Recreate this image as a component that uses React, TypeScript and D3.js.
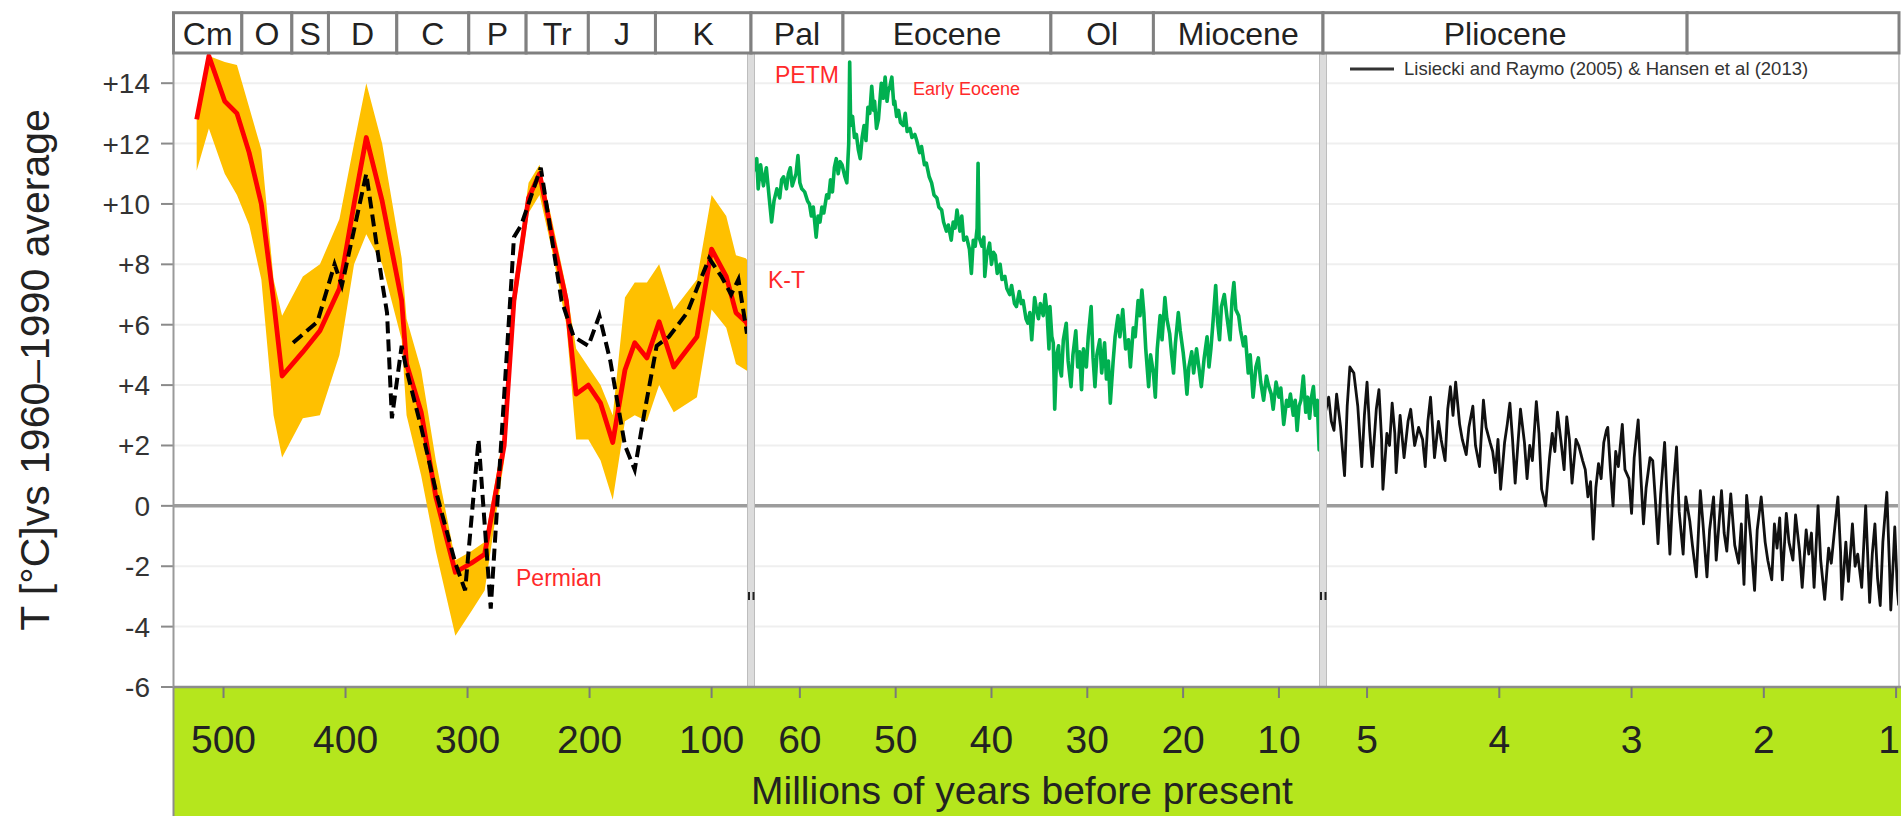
import React from 'react';
import * as d3 from 'd3';

// header cells (names + boundary ages in Ma)
const periodNames = ['Cm', 'O', 'S', 'D', 'C', 'P', 'Tr', 'J', 'K'];
const periodEdges = [541, 485, 444, 414, 358, 299, 252, 201, 146, 67.7];
const epochNames = ['Pal', 'Eocene', 'Ol', 'Miocene'];
const epochEdges = [65.1, 55.5, 33.8, 23.1, 5.4];
const lateNames = ['Pliocene', ''];
const lateEdges = [5.333, 2.58, 0.978];

const yTicks = [-6, -4, -2, 0, 2, 4, 6, 8, 10, 12, 14];
const ticksOld = [500, 400, 300, 200, 100];
const ticksMid = [60, 50, 40, 30, 20, 10];
const ticksNew = [5, 4, 3, 2, 1];

// Phanerozoic: red mean curve and orange uncertainty band share ages
const oldAges = [522, 512, 499, 489, 479, 469, 459, 452, 435, 421, 405, 393, 383, 370, 354, 350, 338, 326, 310, 297, 286, 270, 262, 250, 241, 231, 219, 211, 201, 191, 181, 171, 163, 153, 143, 131, 112, 100, 88, 80, 72, 68];
const redTemps = [12.8, 14.9, 13.4, 13.0, 11.7, 10.0, 6.8, 4.3, 5.1, 5.8, 7.2, 10.0, 12.2, 10.1, 6.8, 4.7, 3.1, 0.3, -2.2, -1.9, -1.6, 2.0, 6.8, 10.2, 11.0, 9.0, 6.8, 3.7, 4.0, 3.4, 2.1, 4.5, 5.4, 4.9, 6.1, 4.6, 5.6, 8.5, 7.6, 6.4, 6.1, 5.8];
const bandLow = [11.1, 12.5, 11.0, 10.3, 9.3, 7.5, 3.0, 1.6, 2.9, 3.0, 5.0, 8.0, 9.0, 8.0, 5.5, 3.0, 1.0, -1.5, -4.3, -3.5, -2.8, 1.5, 6.3, 9.7, 10.3, 8.5, 6.0, 2.2, 2.2, 1.5, 0.2, 2.8, 3.0, 2.8, 4.0, 3.1, 3.6, 6.5, 5.9, 4.7, 4.5, 4.4];
const bandHigh = [12.9, 14.9, 14.7, 14.6, 13.2, 11.8, 7.5, 6.3, 7.6, 8.0, 9.5, 12.0, 14.0, 12.0, 8.2, 6.2, 4.5, 1.5, -1.8, -1.5, -1.2, 2.5, 7.3, 10.7, 11.3, 9.5, 7.2, 5.2, 4.6, 4.0, 3.0, 6.9, 7.4, 7.4, 8.0, 6.5, 7.5, 10.3, 9.6, 8.3, 8.2, 8.0];

// black dashed Phanerozoic reconstruction
const dashAges = [443, 423, 409, 403, 383, 370, 366, 362, 354, 350, 338, 326, 310, 302, 291, 281, 264, 262, 256, 240, 223, 213, 201, 192, 183, 171, 163, 155, 145, 135, 120, 102, 92, 84, 78, 71];
const dashTemps = [5.4, 6.1, 8.0, 7.3, 11.0, 7.4, 6.4, 2.9, 5.3, 4.5, 2.6, 0.5, -1.9, -2.8, 2.2, -3.4, 7.5, 8.9, 9.3, 11.2, 6.8, 5.6, 5.3, 6.3, 4.8, 2.0, 1.2, 3.1, 5.3, 5.6, 6.4, 8.2, 7.6, 7.0, 7.5, 5.7];

// Cenozoic green curve [age Ma, T]
const greenData: [number, number][] = [
  [64.9, 11.0], [64.5, 11.5], [64.35, 10.5], [64.1, 11.3], [63.8, 10.6], [63.5, 11.2], [63.2, 10.2], [62.95, 9.4],
  [62.7, 10.1], [62.4, 10.5], [62.1, 10.2], [61.9, 10.8], [61.7, 10.9], [61.4, 10.5], [61.2, 11.0], [61.0, 11.2],
  [60.8, 10.6], [60.7, 10.7], [60.4, 11.0], [60.2, 11.6], [60.0, 10.7], [59.8, 10.5], [59.5, 10.4], [59.2, 10.1],
  [59.0, 10.0], [58.8, 9.6], [58.6, 9.9], [58.3, 8.9], [58.1, 9.6], [57.9, 9.4], [57.7, 9.9], [57.5, 9.7],
  [57.2, 10.3], [57.0, 10.2], [56.8, 10.8], [56.6, 10.4], [56.4, 11.2], [56.2, 11.5], [56.0, 11.0], [55.8, 11.4],
  [55.6, 11.3], [55.3, 10.9], [55.1, 10.7], [54.9, 12.0], [54.8, 14.7], [54.7, 12.6], [54.5, 12.9], [54.3, 12.2],
  [54.1, 12.3], [53.9, 11.8], [53.7, 11.5], [53.5, 12.2], [53.3, 12.6], [53.1, 12.1], [52.9, 13.2], [52.7, 13.0],
  [52.5, 13.9], [52.3, 13.1], [52.2, 13.4], [52.0, 12.5], [51.8, 12.8], [51.6, 13.6], [51.5, 14.0], [51.3, 13.5],
  [51.1, 14.2], [50.9, 13.4], [50.8, 13.7], [50.6, 13.9], [50.4, 14.2], [50.2, 13.3], [50.1, 13.4], [49.9, 12.9],
  [49.7, 13.1], [49.5, 12.7], [49.2, 12.6], [49.0, 13.0], [48.8, 12.4], [48.5, 12.5], [48.3, 12.2], [48.0, 12.3],
  [47.8, 12.1], [47.5, 11.7], [47.3, 11.9], [47.0, 11.3], [46.8, 11.35], [46.5, 10.9], [46.25, 10.7], [46.0, 10.3],
  [45.7, 10.2], [45.5, 9.9], [45.2, 9.8], [45.0, 9.4], [44.7, 9.1], [44.5, 9.3], [44.2, 8.8], [44.0, 9.4],
  [43.8, 9.2], [43.6, 9.8], [43.3, 9.1], [43.1, 9.6], [42.9, 8.8], [42.6, 8.9], [42.3, 8.5], [42.1, 7.7],
  [41.9, 8.8], [41.7, 8.6], [41.5, 9.2], [41.4, 11.35], [41.3, 8.9], [41.0, 8.6], [40.8, 8.9], [40.7, 7.6],
  [40.5, 8.3], [40.2, 8.7], [40.0, 8.0], [39.8, 8.4], [39.6, 8.3], [39.4, 7.7], [39.1, 8.0], [38.9, 7.5],
  [38.6, 7.6], [38.4, 7.2], [38.1, 7.0], [37.9, 7.3], [37.6, 6.7], [37.4, 6.6], [37.1, 7.1], [36.9, 6.7],
  [36.7, 6.8], [36.4, 6.2], [36.2, 6.05], [36.0, 6.4], [35.8, 5.5], [35.5, 6.9], [35.3, 6.5], [35.1, 6.2],
  [34.9, 6.7], [34.6, 6.3], [34.4, 7.0], [34.2, 6.4], [34.0, 5.2], [33.9, 6.6], [33.7, 5.6], [33.55, 5.4],
  [33.4, 3.2], [33.2, 5.0], [33.0, 5.3], [32.9, 4.6], [32.7, 4.3], [32.5, 5.5], [32.2, 6.05], [32.0, 4.8],
  [31.7, 3.95], [31.5, 5.0], [31.2, 5.8], [31.0, 4.6], [30.8, 5.1], [30.6, 3.85], [30.4, 5.2], [30.1, 4.6],
  [29.9, 5.6], [29.6, 6.6], [29.4, 4.9], [29.2, 3.95], [29.0, 5.0], [28.7, 5.5], [28.5, 4.4], [28.2, 5.4],
  [28.0, 4.2], [27.8, 4.8], [27.6, 3.4], [27.3, 4.8], [27.1, 5.6], [26.8, 6.3], [26.6, 5.6], [26.3, 6.5],
  [26.0, 5.2], [25.7, 5.5], [25.5, 4.6], [25.2, 5.9], [25.0, 5.6], [24.7, 6.8], [24.5, 6.3], [24.3, 7.15],
  [24.1, 6.4], [23.9, 5.2], [23.6, 3.95], [23.4, 5.0], [23.1, 4.4], [22.9, 3.6], [22.7, 5.2], [22.4, 6.3],
  [22.2, 5.5], [21.9, 6.9], [21.7, 6.2], [21.4, 5.7], [21.2, 5.0], [21.0, 4.4], [20.8, 5.4], [20.5, 6.4],
  [20.3, 5.8], [20.0, 5.1], [19.8, 4.5], [19.6, 3.7], [19.4, 4.6], [19.1, 5.1], [18.9, 4.4], [18.6, 5.2],
  [18.4, 4.7], [18.1, 3.95], [17.8, 4.9], [17.5, 5.6], [17.3, 4.6], [17.1, 5.2], [16.9, 6.0], [16.6, 7.3],
  [16.4, 6.1], [16.2, 5.5], [16.0, 6.6], [15.7, 7.0], [15.4, 6.2], [15.1, 5.5], [14.9, 6.8], [14.7, 7.4],
  [14.5, 6.5], [14.2, 6.3], [14.0, 5.8], [13.7, 5.3], [13.5, 5.6], [13.2, 4.4], [13.0, 5.0], [12.7, 3.6],
  [12.4, 4.6], [12.15, 4.9], [11.9, 4.1], [11.6, 3.5], [11.3, 4.3], [11.1, 4.0], [10.8, 3.7], [10.6, 3.2],
  [10.3, 4.1], [10.0, 3.6], [9.8, 3.9], [9.5, 2.7], [9.2, 3.5], [9.0, 3.3], [8.8, 3.7], [8.5, 3.0],
  [8.3, 3.5], [8.1, 2.5], [7.9, 3.3], [7.7, 3.5], [7.45, 4.3], [7.2, 3.1], [7.0, 3.6], [6.8, 2.9],
  [6.6, 3.6], [6.4, 3.95], [6.2, 3.0], [6.0, 3.5], [5.8, 1.85], [5.6, 3.2], [5.5, 4.9], [5.45, 3.5],
];

// Pliocene-Pleistocene black curve [age Ma, T]
const blackData: [number, number][] = [
  [5.32, 3.0], [5.29, 3.6], [5.27, 2.8], [5.25, 2.5], [5.23, 3.7], [5.2, 2.6], [5.17, 1.0], [5.15, 3.3],
  [5.13, 4.6], [5.1, 4.4], [5.07, 3.3], [5.04, 1.3], [5.02, 3.0], [5.0, 4.1], [4.98, 2.5], [4.96, 1.3],
  [4.93, 3.2], [4.91, 3.85], [4.89, 2.2], [4.88, 0.55], [4.85, 2.4], [4.83, 2.0], [4.81, 3.4], [4.79, 2.4],
  [4.78, 1.1], [4.75, 3.0], [4.72, 1.6], [4.69, 2.8], [4.67, 3.2], [4.64, 2.0], [4.61, 2.6], [4.58, 2.2],
  [4.56, 1.3], [4.54, 2.8], [4.52, 3.6], [4.5, 2.3], [4.49, 1.6], [4.46, 2.8], [4.44, 2.2], [4.41, 1.5],
  [4.39, 3.2], [4.37, 3.95], [4.35, 3.0], [4.33, 4.1], [4.3, 2.7], [4.28, 2.2], [4.25, 1.7], [4.23, 2.6],
  [4.2, 3.3], [4.18, 2.0], [4.15, 1.3], [4.12, 3.5], [4.1, 2.6], [4.07, 2.1], [4.05, 1.8], [4.03, 1.1],
  [4.01, 2.2], [3.99, 0.55], [3.96, 2.1], [3.94, 2.7], [3.92, 3.4], [3.9, 2.2], [3.88, 0.75], [3.86, 2.0],
  [3.84, 3.2], [3.81, 2.1], [3.79, 0.9], [3.77, 2.0], [3.75, 1.5], [3.72, 3.45], [3.7, 2.4], [3.68, 0.55],
  [3.65, 0.0], [3.62, 1.6], [3.6, 2.4], [3.58, 1.8], [3.56, 3.1], [3.53, 2.0], [3.51, 1.2], [3.49, 2.95],
  [3.47, 2.2], [3.45, 0.75], [3.42, 2.2], [3.4, 2.0], [3.37, 1.5], [3.35, 1.2], [3.33, 0.3], [3.31, 0.8],
  [3.29, -1.1], [3.27, 0.6], [3.25, 1.4], [3.23, 0.9], [3.21, 2.1], [3.19, 2.5], [3.18, 2.6], [3.16, 1.2],
  [3.14, 0.0], [3.12, 1.8], [3.1, 1.3], [3.07, 2.7], [3.05, 1.2], [3.02, 0.9], [3.0, -0.25], [2.98, 1.6],
  [2.95, 2.85], [2.93, 1.0], [2.91, -0.6], [2.89, 0.6], [2.86, 1.6], [2.84, 1.5], [2.82, 0.2], [2.8, -1.25],
  [2.78, 0.4], [2.75, 2.1], [2.73, 0.1], [2.71, -1.6], [2.69, 0.3], [2.66, 1.95], [2.64, -0.2], [2.61, -1.6],
  [2.59, 0.3], [2.56, -0.5], [2.54, -1.3], [2.51, -2.35], [2.48, 0.5], [2.46, -0.6], [2.43, -2.35], [2.41, -0.8],
  [2.38, 0.3], [2.36, -1.8], [2.32, 0.5], [2.3, -0.9], [2.28, -1.5], [2.25, 0.4], [2.22, -1.3], [2.19, -1.9],
  [2.17, -0.6], [2.15, -2.6], [2.13, 0.35], [2.1, -1.0], [2.07, -2.8], [2.05, -0.8], [2.02, 0.3], [1.99, -1.2],
  [1.97, -1.8], [1.94, -2.45], [1.92, -0.6], [1.9, -1.4], [1.88, -0.4], [1.86, -2.45], [1.83, -0.25], [1.81, -1.2],
  [1.78, -1.8], [1.76, -0.3], [1.73, -1.5], [1.71, -2.7], [1.68, -0.8], [1.66, -1.6], [1.64, -0.9], [1.62, -2.7],
  [1.59, 0.0], [1.57, -1.8], [1.54, -3.1], [1.51, -1.4], [1.49, -1.9], [1.47, -1.0], [1.44, 0.3], [1.42, -1.5],
  [1.41, -3.1], [1.38, -1.2], [1.36, -2.5], [1.33, -0.6], [1.31, -2.0], [1.29, -1.6], [1.26, -2.7], [1.23, 0.0],
  [1.2, -3.2], [1.18, -1.6], [1.16, -0.6], [1.14, -2.4], [1.12, -3.3], [1.1, -1.2], [1.07, 0.45], [1.05, -2.0],
  [1.04, -3.45], [1.02, -1.7], [1.01, -0.7], [0.99, -2.8], [0.98, -3.3],
];

const FONT = "'Liberation Sans', Arial, Helvetica, sans-serif";
const W = 1901;
const H = 816;
const top = 53;
const bottom = 687;
const left = 173.5;
const right = 1899;

export default function App() {
  React.useEffect(() => {
    document.body.style.margin = '0';
    document.body.style.overflow = 'hidden';
  }, []);

  const y = d3.scaleLinear().domain([-6, 15]).range([bottom, top]);
  const xOld = d3.scaleLinear().domain([541, 67.7]).range([left, 751]);
  const xMid = d3.scaleLinear().domain([65.1, 5.4]).range([751, 1323]);
  const xNew = d3.scaleLinear().domain([5.333, 0.978]).range([1323, right]);

  const band = d3.area<number>()
    .x(d => xOld(d))
    .y0((d, i) => y(bandLow[i]))
    .y1((d, i) => y(bandHigh[i]));
  const redLine = d3.line<number>().x(d => xOld(d)).y((d, i) => y(redTemps[i]));
  const dashLine = d3.line<number>().x(d => xOld(d)).y((d, i) => y(dashTemps[i]));
  const greenLine = d3.line<[number, number]>().x(d => xMid(d[0])).y(d => y(d[1]));
  const blackLine = d3.line<[number, number]>().x(d => xNew(d[0])).y(d => y(d[1]));

  const headerTop = 12.7;
  const headerCells = [
    ...periodNames.map((n, i) => ({ n, x0: xOld(periodEdges[i]), x1: xOld(periodEdges[i + 1]) })),
    ...epochNames.map((n, i) => ({ n, x0: xMid(epochEdges[i]), x1: xMid(epochEdges[i + 1]) })),
    ...lateNames.map((n, i) => ({ n, x0: xNew(lateEdges[i]), x1: xNew(lateEdges[i + 1]) })),
  ];

  const xTicks = [
    ...ticksOld.map(t => ({ t, x: xOld(t) })),
    ...ticksMid.map(t => ({ t, x: xMid(t) })),
    ...ticksNew.map(t => ({ t, x: xNew(t) })),
  ];

  const dividers = [751, 1323];

  return (
    <svg width={W} height={H} style={{ position: 'absolute', left: 0, top: 0 }} fontFamily={FONT}>
      <defs>
        <clipPath id="p1"><rect x={left} y={top} width={751 - left} height={bottom - top} /></clipPath>
        <clipPath id="p2"><rect x={751} y={top} width={1323 - 751} height={bottom - top} /></clipPath>
        <clipPath id="p3"><rect x={1323} y={top} width={right - 1323} height={bottom - top} /></clipPath>
      </defs>
      <rect width={W} height={H} fill="#fff" />

      {/* grid */}
      {yTicks.map(t => (
        <line key={'g' + t} x1={left} x2={right} y1={y(t)} y2={y(t)}
          stroke={t === 0 ? '#9c9c9c' : '#efefef'} strokeWidth={t === 0 ? 3.5 : 2} />
      ))}

      {/* y ticks */}
      {yTicks.map(t => (
        <g key={'yt' + t}>
          <line x1={161} x2={left} y1={y(t)} y2={y(t)} stroke="#8a8a8a" strokeWidth={2} />
          <text x={150} y={y(t) + 10} textAnchor="end" fontSize={28} fill="#333">
            {t > 0 ? `+${t}` : `${t}`}
          </text>
        </g>
      ))}

      {/* Phanerozoic panel */}
      <g clipPath="url(#p1)">
        <path d={band(oldAges) || ''} fill="#ffc000" />
        <path d={redLine(oldAges) || ''} fill="none" stroke="#ff0000" strokeWidth={4.8} strokeLinejoin="round" />
        <path d={dashLine(dashAges) || ''} fill="none" stroke="#000" strokeWidth={4} strokeDasharray="12,6" />
      </g>

      {/* Cenozoic panel */}
      <g clipPath="url(#p2)">
        <path d={greenLine(greenData) || ''} fill="none" stroke="#00b050" strokeWidth={3.6} strokeLinejoin="round" />
      </g>

      {/* Pliocene-Pleistocene panel */}
      <g clipPath="url(#p3)">
        <path d={blackLine(blackData) || ''} fill="none" stroke="#111" strokeWidth={2.8} strokeLinejoin="round" />
      </g>

      {/* panel dividers */}
      {dividers.map(dx => (
        <g key={'d' + dx}>
          <rect x={dx - 3.5} y={top} width={7} height={bottom - top} fill="#dcdcdc" />
          <line x1={dx - 3.5} x2={dx - 3.5} y1={top} y2={bottom} stroke="#bdbdbd" strokeWidth={1} />
          <line x1={dx + 3.5} x2={dx + 3.5} y1={top} y2={bottom} stroke="#bdbdbd" strokeWidth={1} />
          <line x1={dx - 2} x2={dx - 2} y1={592} y2={600} stroke="#222" strokeWidth={2} />
          <line x1={dx + 2.5} x2={dx + 2.5} y1={592} y2={600} stroke="#222" strokeWidth={2} />
        </g>
      ))}

      <line x1={left} x2={left} y1={top} y2={bottom} stroke="#9a9a9a" strokeWidth={2} />
      <line x1={right} x2={right} y1={top} y2={bottom} stroke="#cfcfcf" strokeWidth={2} />

      {/* annotations */}
      <text x={775} y={83} fontSize={23} fill="#ff2a2a">PETM</text>
      <text x={913} y={95} fontSize={18} fill="#ff2a2a">Early Eocene</text>
      <text x={768} y={288} fontSize={23} fill="#ff2a2a">K-T</text>
      <text x={516} y={586} fontSize={23} fill="#ff2a2a">Permian</text>

      {/* legend */}
      <line x1={1350} x2={1394} y1={69} y2={69} stroke="#333" strokeWidth={3} />
      <text x={1404} y={75} fontSize={18.5} fill="#333">Lisiecki and Raymo (2005) &amp; Hansen et al (2013)</text>

      {/* header */}
      {headerCells.map((c, i) => (
        <g key={'h' + i}>
          <rect x={c.x0} y={headerTop} width={c.x1 - c.x0} height={top - headerTop} fill="#fff" stroke="#808080" strokeWidth={3} />
          <text x={(c.x0 + c.x1) / 2} y={44.5} textAnchor="middle" fontSize={32} fill="#222">{c.n}</text>
        </g>
      ))}

      {/* x axis band */}
      <rect x={left} y={bottom} width={W - left} height={H - bottom} fill="#b5e61d" />
      <line x1={left} x2={W} y1={bottom} y2={bottom} stroke="#8c8c8c" strokeWidth={2.5} />
      <line x1={left} x2={left} y1={bottom} y2={H} stroke="#8c8c8c" strokeWidth={2} />
      {xTicks.map(({ t, x }) => (
        <g key={'xt' + t}>
          <line x1={x} x2={x} y1={bottom} y2={bottom + 11} stroke="#7a7a7a" strokeWidth={2} />
          <text x={Math.min(x, W - 12)} y={753} textAnchor="middle" fontSize={39} fill="#222">{t}</text>
        </g>
      ))}
      <text x={1022} y={804} textAnchor="middle" fontSize={39} fill="#222">Millions of years before present</text>

      {/* y axis title */}
      <text transform="translate(49,370) rotate(-90)" textAnchor="middle" fontSize={41} fill="#222">
        T [°C]vs 1960–1990 average
      </text>
    </svg>
  );
}
